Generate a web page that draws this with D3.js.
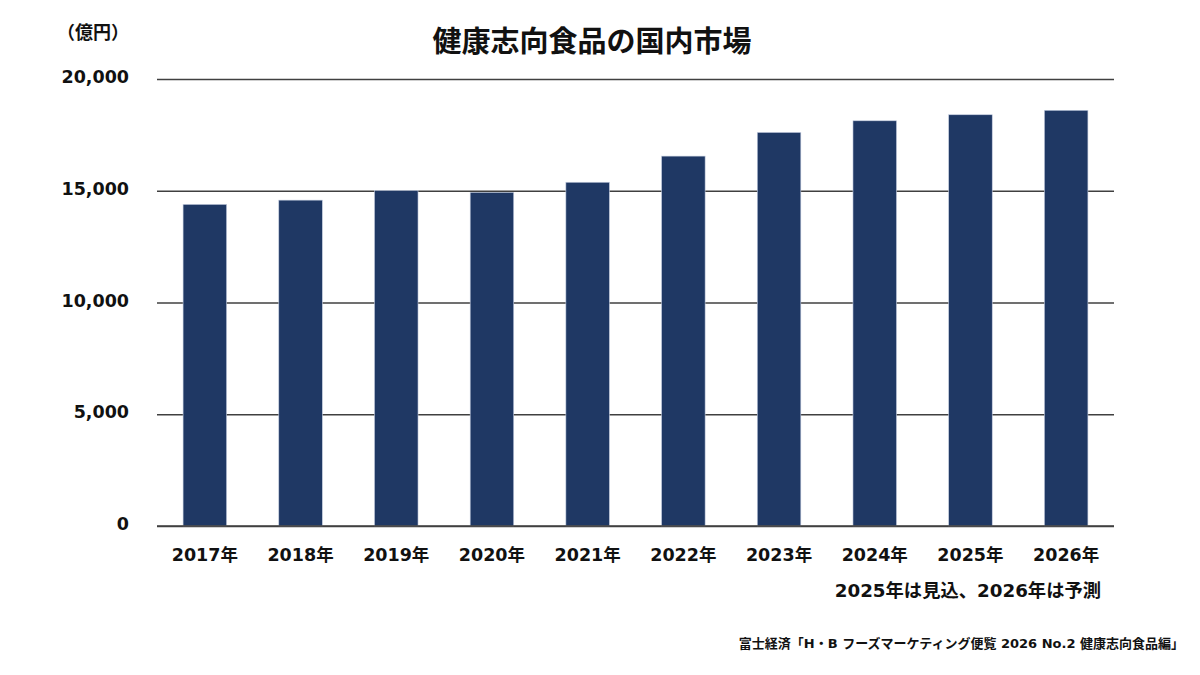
<!DOCTYPE html>
<html>
<head>
<meta charset="utf-8">
<script src="https://cdn.jsdelivr.net/npm/d3@7/dist/d3.min.js"></script>
<style>
  body { margin: 0; background: #fff; }
  text { font-family: "DejaVu Sans", "Noto Sans CJK JP", sans-serif; font-weight: bold; fill: #111; }
</style>
</head>
<body>
<div id="chart"></div>
<script>
var years = ["2017", "2018", "2019", "2020", "2021", "2022", "2023", "2024", "2025", "2026"];
var values = [14390, 14580, 15010, 14930, 15380, 16550, 17610, 18130, 18400, 18600];
var yTicks = [0, 5000, 10000, 15000, 20000];

var W = 1200, H = 675;
var margin = {top: 79, right: 86, bottom: 149, left: 157};

var svg = d3.select("#chart")
  .append("svg")
    .attr("width", W)
    .attr("height", H);

var x = d3.scaleBand()
  .domain(years)
  .range([margin.left, W - margin.right])
  .paddingInner(0.545)
  .paddingOuter(0.2725);

var y = d3.scaleLinear()
  .domain([0, 20000])
  .range([H - margin.bottom, margin.top]);

// gridlines + y labels
var yAxis = svg.append("g")
  .attr("transform", "translate(" + margin.left + ",0)")
  .call(d3.axisLeft(y)
    .tickValues(yTicks)
    .tickSize(-(W - margin.right - margin.left))
    .tickPadding(28)
    .tickFormat(d3.format(",")));
yAxis.select(".domain").remove();
yAxis.selectAll("line")
  .attr("stroke", "#404040")
  .attr("stroke-width", 1.5);
yAxis.selectAll("text")
  .attr("dy", "0.2em")
  .style("font-size", "17.5px")
  .style("fill", "#111");

// bars
svg.selectAll("rect.bar")
  .data(values)
  .enter()
  .append("rect")
    .attr("class", "bar")
    .attr("x", function(d, i) { return x(years[i]); })
    .attr("y", function(d) { return y(d); })
    .attr("width", x.bandwidth())
    .attr("height", function(d) { return y(0) - y(d); })
    .attr("fill", "#1F3864")
    .attr("stroke", "#c5cee0")
    .attr("stroke-width", 0.6);

// baseline redrawn above bars
svg.append("line")
  .attr("x1", margin.left)
  .attr("x2", W - margin.right)
  .attr("y1", y(0))
  .attr("y2", y(0))
  .attr("stroke", "#404040")
  .attr("stroke-width", 1.5);

// x labels
var xAxis = svg.append("g")
  .attr("transform", "translate(0," + y(0) + ")")
  .call(d3.axisBottom(x)
    .tickSize(0)
    .tickPadding(23)
    .tickFormat(function(d) { return d + "年"; }));
xAxis.select(".domain").remove();
xAxis.selectAll("text")
  .style("font-size", "17.5px")
  .style("fill", "#111");

// title
svg.append("text")
  .attr("x", 592)
  .attr("y", 52)
  .attr("text-anchor", "middle")
  .style("font-family", "'Noto Sans CJK JP', sans-serif")
  .style("font-size", "29px")
  .text("健康志向食品の国内市場");

// unit
svg.append("text")
  .attr("x", 93)
  .attr("y", 39)
  .attr("text-anchor", "middle")
  .style("font-family", "'Noto Sans CJK JP', sans-serif")
  .style("font-size", "18px")
  .text("（億円）");

// note
svg.append("text")
  .attr("x", 1101)
  .attr("y", 597)
  .attr("text-anchor", "end")
  .style("font-size", "18.3px")
  .text("2025年は見込、2026年は予測");

// source
svg.append("text")
  .attr("x", 1184)
  .attr("y", 648)
  .attr("text-anchor", "end")
  .style("font-size", "13px")
  .text("富士経済「H・B フーズマーケティング便覧 2026 No.2 健康志向食品編」");
</script>
</body>
</html>
